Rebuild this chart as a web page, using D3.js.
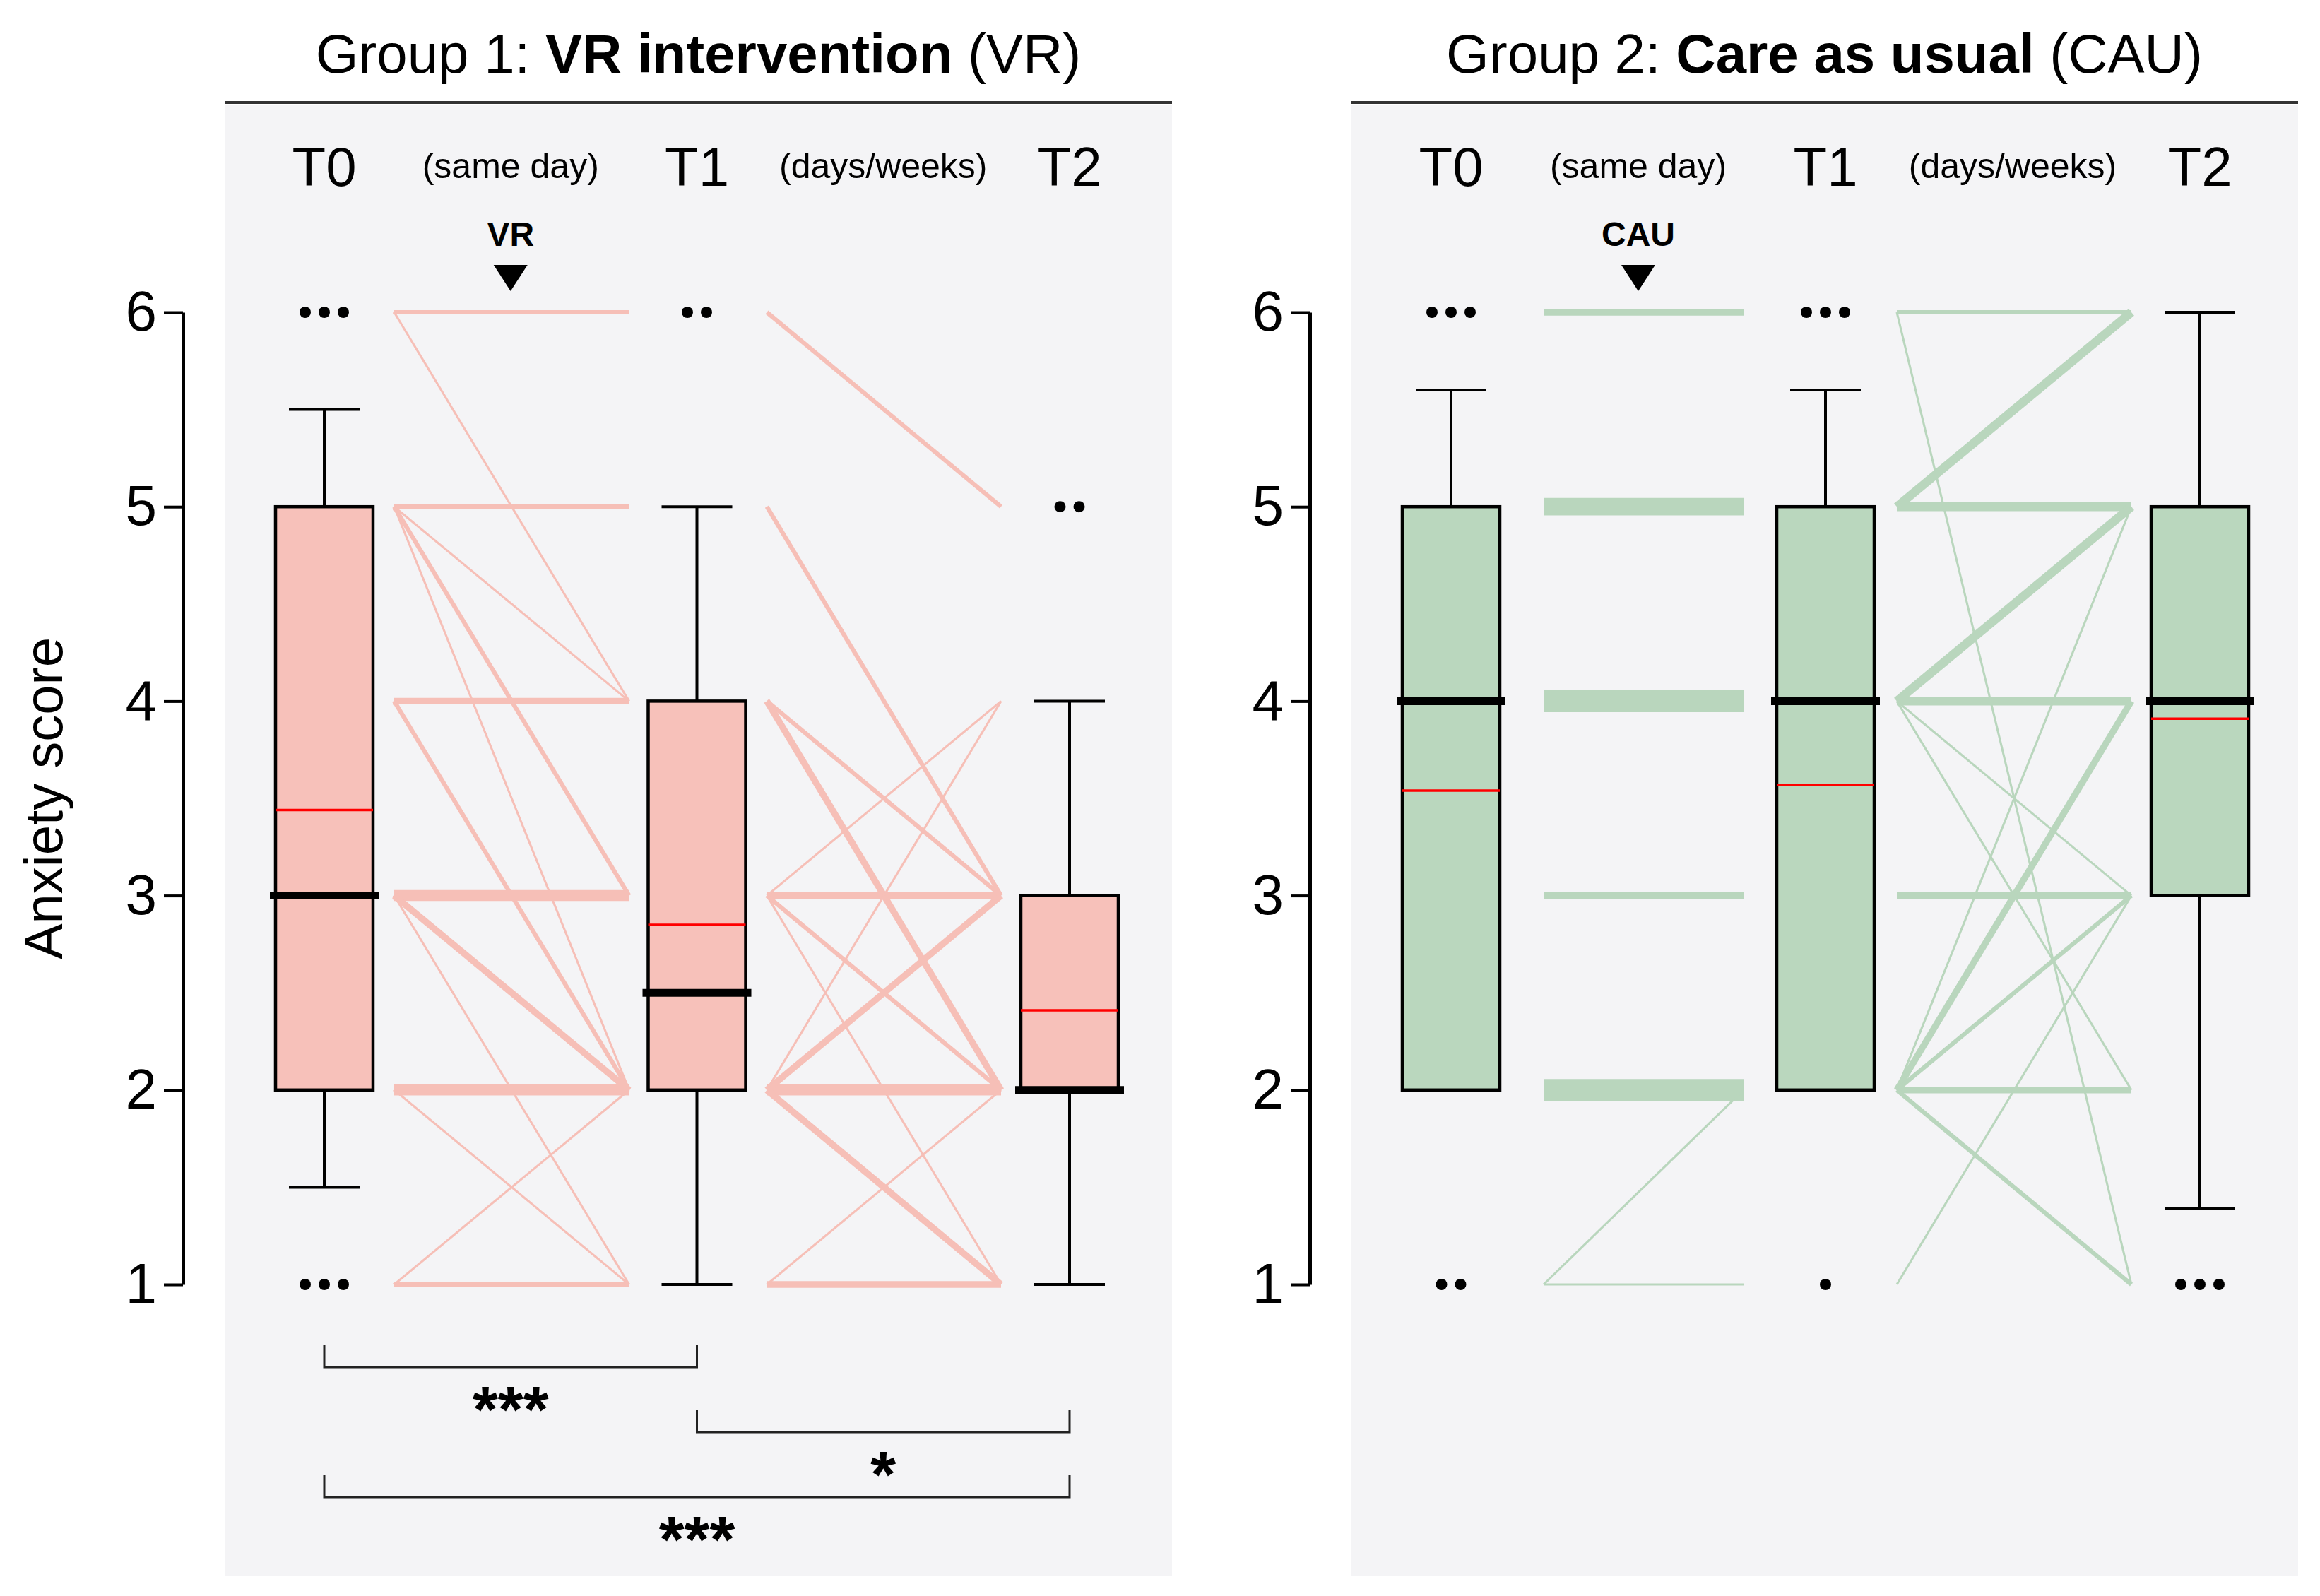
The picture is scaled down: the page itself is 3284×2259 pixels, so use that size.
<!DOCTYPE html>
<html>
<head>
<meta charset="utf-8">
<script src="https://cdn.jsdelivr.net/npm/d3@7"></script>
<style>
  body { margin: 0; background: #fff; }
  svg { display: block; font-family: 'Liberation Sans', Arial, sans-serif; }
</style>
</head>
<body>
<div id="chart"></div>
<script>
// --- Anxiety score at T0/T1/T2, VR intervention vs. care as usual ---

const timepoints = ['T0', 'T1', 'T2'];
const intervalLabels = ['(same day)', '(days/weeks)'];
const yTicks = [1, 2, 3, 4, 5, 6];

// box stats per timepoint
const vrStats = [
  { low: 1.5, q1: 2, median: 3,   q3: 5, high: 5.5, mean: 3.44 },
  { low: 1,   q1: 2, median: 2.5, q3: 4, high: 5,   mean: 2.85 },
  { low: 1,   q1: 2, median: 2,   q3: 3, high: 4,   mean: 2.41 }
];
const cauStats = [
  { low: 2,    q1: 2, median: 4, q3: 5, high: 5.6, mean: 3.54 },
  { low: 2,    q1: 2, median: 4, q3: 5, high: 5.6, mean: 3.57 },
  { low: 1.39, q1: 3, median: 4, q3: 5, high: 6,   mean: 3.91 }
];

// outliers: [timepoint, score, count]
const vrOutliers = [['T0', 6, 3], ['T0', 1, 3], ['T1', 6, 2], ['T2', 5, 2]];
const cauOutliers = [['T0', 6, 3], ['T0', 1, 2], ['T1', 6, 3], ['T1', 1, 1], ['T2', 1, 3]];

// individual changes: [score before, score after, participants]
const vrT0T1 = [[6,6,2],[6,4,1],[5,5,2],[5,4,1],[5,3,2],[5,2,1],[4,4,3],[4,2,2],
                [3,3,5],[3,2,3],[3,1,1],[2,2,5],[2,1,1],[1,1,2],[1,2,1]];
const vrT1T2 = [[6,5,2],[5,3,2],[4,3,2],[4,2,3],[3,3,3],[3,4,1],[3,2,2],[3,1,1],
                [2,2,5],[2,3,3],[2,4,1],[2,1,3],[1,1,3],[1,2,1]];
const cauT0T1 = [[6,6,3],[5,5,8],[4,4,10],[3,3,3],[2,2,10],[1,1,1],[1,2,1]];
const cauT1T2 = [[6,6,2],[6,1,1],[5,6,4],[5,5,4],[4,5,4],[4,4,4],[4,3,1],[4,2,1],
                 [3,3,3],[2,5,1],[2,4,3],[2,3,2],[2,2,3],[2,1,2],[1,3,1]];

// pairwise tests: [from, to, stars]
const vrSignif = [['T0', 'T1', '***'], ['T1', 'T2', '*'], ['T0', 'T2', '***']];
const cauSignif = [];

const W = 3284, H = 2259;
const panelTop = 148, panelBottom = 2230, panelWidth = 1341;
const countWidth = 3.1; // stroke px per participant

const groups = [
  {
    title: [['Group 1: ', 400], ['VR intervention', 700], [' (VR)', 400]],
    marker: 'VR', stats: vrStats, outliers: vrOutliers, changes: [vrT0T1, vrT1T2], signif: vrSignif,
    fill: '#f7c1ba', line: '#f6bfb7',
    panelX: 318, colRange: [459, 1514], axisX: 259, gapInset: [[99, 96], [99, 97]]
  },
  {
    title: [['Group 2: ', 400], ['Care as usual', 700], [' (CAU)', 400]],
    marker: 'CAU', stats: cauStats, outliers: cauOutliers, changes: [cauT0T1, cauT1T2], signif: cauSignif,
    fill: '#bad7be', line: '#b9d6bd',
    panelX: 1912, colRange: [2054, 3114], axisX: 1854, gapInset: [[131, 116], [101, 97]]
  }
];

const svg = d3.select('#chart').append('svg')
  .attr('width', W)
  .attr('height', H);

const yScale = d3.scaleLinear().domain([1, 6]).range([1818, 442]);

groups.forEach(g => {
  const xScale = d3.scalePoint().domain(timepoints).range(g.colRange);
  const root = svg.append('g');

  // panel background + title rule
  root.append('rect')
    .attr('x', g.panelX).attr('y', panelTop)
    .attr('width', panelWidth).attr('height', panelBottom - panelTop)
    .attr('fill', '#f4f4f6');

  root.append('line')
    .attr('x1', g.panelX).attr('x2', g.panelX + panelWidth)
    .attr('y1', 145).attr('y2', 145)
    .attr('stroke', '#333').attr('stroke-width', 4);

  const title = root.append('text')
    .attr('x', g.panelX + panelWidth / 2).attr('y', 103)
    .attr('text-anchor', 'middle')
    .attr('font-size', 78);
  g.title.forEach(([t, w]) => title.append('tspan').attr('font-weight', w).text(t));

  // header row
  root.selectAll('.tp-label').data(timepoints).join('text')
    .attr('class', 'tp-label')
    .attr('x', d => xScale(d)).attr('y', 263)
    .attr('text-anchor', 'middle')
    .attr('font-size', 78)
    .text(d => d);

  const midX = i => (xScale(timepoints[i]) + xScale(timepoints[i + 1])) / 2;

  root.selectAll('.int-label').data(intervalLabels).join('text')
    .attr('class', 'int-label')
    .attr('x', (d, i) => midX(i)).attr('y', 252)
    .attr('text-anchor', 'middle')
    .attr('font-size', 50)
    .text(d => d);

  root.append('text')
    .attr('x', midX(0)).attr('y', 348)
    .attr('text-anchor', 'middle')
    .attr('font-size', 48).attr('font-weight', 700)
    .text(g.marker);

  root.append('path')
    .attr('d', `M${midX(0) - 24},375 L${midX(0) + 24},375 L${midX(0)},412 Z`)
    .attr('fill', '#000');

  // individual trajectories between timepoints
  g.changes.forEach((rows, i) => {
    const x0 = xScale(timepoints[i]) + g.gapInset[i][0];
    const x1 = xScale(timepoints[i + 1]) - g.gapInset[i][1];
    root.append('g').selectAll('line').data(rows).join('line')
      .attr('x1', x0).attr('x2', x1)
      .attr('y1', d => yScale(d[0])).attr('y2', d => yScale(d[1]))
      .attr('stroke', g.line)
      .attr('stroke-width', d => d[2] * countWidth);
  });

  // boxplots
  const boxW = 138, capW = 100;
  const box = root.selectAll('.box').data(g.stats).join('g')
    .attr('class', 'box')
    .attr('transform', (d, i) => `translate(${xScale(timepoints[i])},0)`);

  box.append('line')
    .attr('x1', 0).attr('x2', 0)
    .attr('y1', d => yScale(d.high)).attr('y2', d => yScale(d.low))
    .attr('stroke', '#000').attr('stroke-width', 4);

  box.filter(d => d.high > d.q3).append('line')
    .attr('x1', -capW / 2).attr('x2', capW / 2)
    .attr('y1', d => yScale(d.high)).attr('y2', d => yScale(d.high))
    .attr('stroke', '#000').attr('stroke-width', 4);

  box.filter(d => d.low < d.q1).append('line')
    .attr('x1', -capW / 2).attr('x2', capW / 2)
    .attr('y1', d => yScale(d.low)).attr('y2', d => yScale(d.low))
    .attr('stroke', '#000').attr('stroke-width', 4);

  box.append('rect')
    .attr('x', -boxW / 2).attr('width', boxW)
    .attr('y', d => yScale(d.q3))
    .attr('height', d => yScale(d.q1) - yScale(d.q3))
    .attr('fill', g.fill)
    .attr('stroke', '#000').attr('stroke-width', 4.5);

  box.append('line')
    .attr('x1', -boxW / 2).attr('x2', boxW / 2)
    .attr('y1', d => yScale(d.mean)).attr('y2', d => yScale(d.mean))
    .attr('stroke', '#ff0000').attr('stroke-width', 3.5);

  box.append('line')
    .attr('x1', -boxW / 2 - 8).attr('x2', boxW / 2 + 8)
    .attr('y1', d => yScale(d.median)).attr('y2', d => yScale(d.median))
    .attr('stroke', '#000').attr('stroke-width', 11);

  // outlier dots, spread side by side
  const dots = [];
  g.outliers.forEach(([t, v, n]) => {
    for (let k = 0; k < n; k++) dots.push({ t, v, off: (k - (n - 1) / 2) * 27 });
  });
  root.append('g').selectAll('circle').data(dots).join('circle')
    .attr('cx', d => xScale(d.t) + d.off)
    .attr('cy', d => yScale(d.v))
    .attr('r', 8)
    .attr('fill', '#000');

  // significance brackets
  const brk = root.selectAll('.sig').data(g.signif).join('g').attr('class', 'sig');
  const brY = (i) => 1935 + i * 92;
  brk.append('path')
    .attr('d', (d, i) => `M${xScale(d[0])},${brY(i) - 31} V${brY(i)} H${xScale(d[1])} V${brY(i) - 31}`)
    .attr('fill', 'none')
    .attr('stroke', '#222').attr('stroke-width', 3);
  brk.append('text')
    .attr('x', d => (xScale(d[0]) + xScale(d[1])) / 2)
    .attr('y', (d, i) => brY(i) + 92)
    .attr('text-anchor', 'middle')
    .attr('font-size', 92).attr('font-weight', 700)
    .text(d => d[2]);

  // y axis
  const axis = root.append('g')
    .attr('transform', `translate(${g.axisX},0)`)
    .call(d3.axisLeft(yScale).tickValues(yTicks).tickFormat(d3.format('d'))
      .tickSize(27).tickSizeOuter(0).tickPadding(10));
  axis.select('.domain').attr('stroke', '#000').attr('stroke-width', 5);
  axis.selectAll('.tick line').attr('stroke', '#000').attr('stroke-width', 4);
  axis.selectAll('.tick text')
    .attr('font-size', 80)
    .attr('font-family', "'Liberation Sans', Arial, sans-serif")
    .attr('fill', '#000');
});

svg.append('text')
  .attr('transform', 'rotate(-90)')
  .attr('x', -1130).attr('y', 88)
  .attr('text-anchor', 'middle')
  .attr('font-size', 76)
  .text('Anxiety score');
</script>
</body>
</html>
